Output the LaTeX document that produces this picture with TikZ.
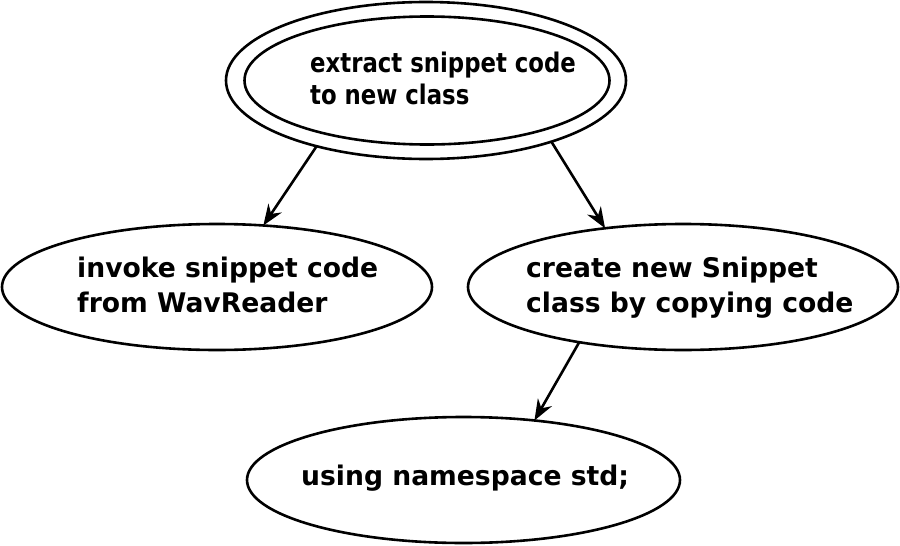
\documentclass[tikz,border=0pt]{standalone}
\usepackage{fontspec}
\setmainfont{DejaVu Sans}
\usetikzlibrary{shapes.geometric,arrows.meta}
\begin{document}
\begin{tikzpicture}[x=1pt,y=-1pt,
  ell/.style={draw, ellipse, line width=2.6pt, inner sep=0pt, outer sep=0pt},
  lbl/.style={anchor=base west, inner sep=0pt, font=\fontsize{27}{35}\selectfont\bfseries},
  toplbl/.style={anchor=base west, inner sep=0pt, font=\fontsize{27}{35}\selectfont\bfseries},
  conn/.style={line width=2.6pt, -{Stealth[length=21pt,width=16pt,inset=7pt]}}]
\useasboundingbox (0,0) rectangle (900,546);
% ellipses
\node[ell, minimum width=400pt, minimum height=157pt] (topout) at (426,80.5) {};
\node[ell, minimum width=365pt, minimum height=128pt] (topin) at (427,80.5) {};
\node[ell, minimum width=430pt, minimum height=126pt] (left) at (217,287) {};
\node[ell, minimum width=430pt, minimum height=126pt] (right) at (683,287) {};
\node[ell, minimum width=433pt, minimum height=126pt] (bottom) at (463.5,480) {};
% texts
\node[toplbl] (t1) at (310,72) {\scalebox{0.845}[1]{extract snippet code}};
\node[toplbl] (t2) at (310,104) {\scalebox{0.845}[1]{to new class}};
\node[lbl] (l1) at (77,277) {\scalebox{0.985}[1]{invoke snippet code}};
\node[lbl] (l2) at (77,312) {\scalebox{0.985}[1]{from WavReader}};
\node[lbl] (r1) at (526,277) {\scalebox{0.985}[1]{create new Snippet}};
\node[lbl] (r2) at (526,312) {\scalebox{0.985}[1]{class by copying code}};
\node[lbl] (b1) at (301,485) {\scalebox{0.985}[1]{using namespace std;}};
% connectors
\draw[conn] (topout.211.4) -- (left.53.1);
\draw[conn] (topout.-26.8) -- (right.143.4);
\draw[conn] (right.208.9) -- (bottom.40.9);
\end{tikzpicture}
\end{document}
